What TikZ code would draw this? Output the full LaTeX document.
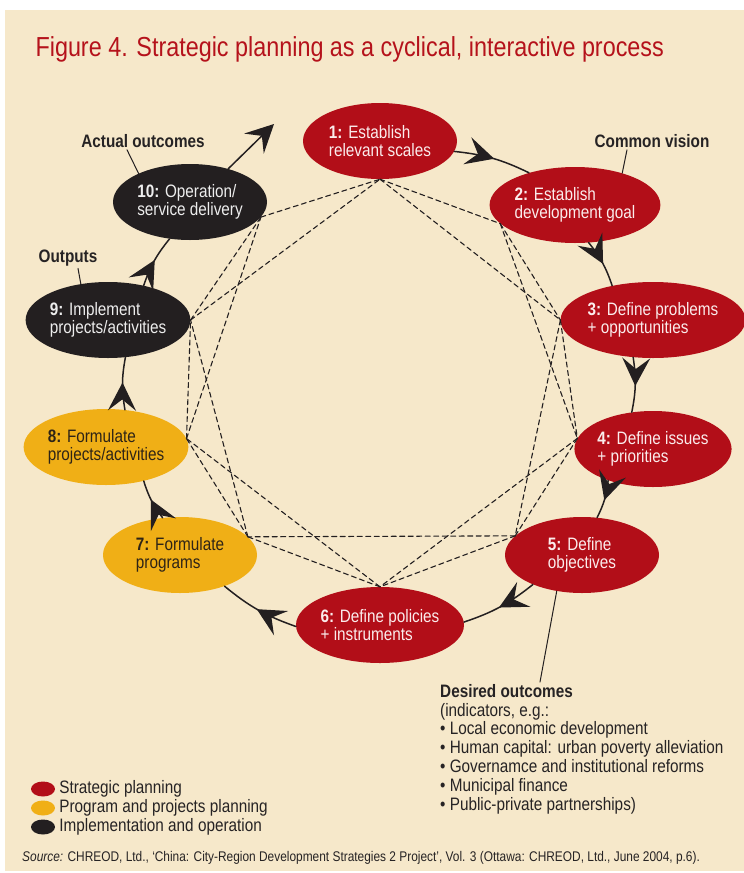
\documentclass[tikz,border=0pt]{standalone}
\usepackage{fontspec}
\setmainfont{Liberation Sans}[FakeStretch=0.85]
\usetikzlibrary{shapes.geometric,arrows.meta,decorations.markings}
\definecolor{bgbeige}{HTML}{F6E8CA}
\definecolor{planred}{HTML}{B20E18}
\definecolor{progyel}{HTML}{F0AF16}
\definecolor{implblk}{HTML}{231F20}
\definecolor{titlered}{HTML}{B5121B}
\definecolor{redtext}{HTML}{FBECEC}
\definecolor{blktext}{HTML}{EDEDED}
\definecolor{yeltext}{HTML}{2E2416}
\definecolor{inktext}{HTML}{262324}
\tikzset{bigtip/.tip={Stealth[length=28pt,width=28pt,inset=11pt]}}
\begin{document}
\begin{tikzpicture}[x=1pt, y=1pt, font=\fontsize{18}{18}\selectfont, line join=round, line cap=round,
	stage/.style={ellipse, minimum width=154pt, minimum height=76pt, inner sep=0pt, align=left},
	strat/.style={stage, fill=planred, text=redtext},
	prog/.style={stage, fill=progyel, text=yeltext},
	impl/.style={stage, fill=implblk, text=blktext},
	flow/.style={draw=implblk, line width=1.5pt, postaction={decorate}, decoration={markings, mark=at position 0.52 with {\arrow[implblk]{bigtip}}}},
	web/.style={draw=implblk, line width=1.1pt, dash pattern=on 5pt off 3.5pt},
	lbl/.style={font=\fontsize{18}{18}\selectfont\bfseries, text=inktext, inner sep=2pt}]
	\useasboundingbox (0,0) rectangle (744,-873);
	\fill[bgbeige] (5,-10) rectangle (744,-871);
	\node[anchor=base west, text=titlered, font=\fontsize{27.5}{30}\selectfont] (title) at (32,-56) {Figure 4. Strategic planning as a cyclical, interactive process};
	\node[strat] (n1) at (380,-141) {\textbf{1:} Establish\\relevant scales};
	\node[strat] (n2) at (575,-205) {\textbf{2:} Establish\\development goal};
	\node[strat] (n3) at (653,-320) {\textbf{3:} Define problems\\+ opportunities};
	\node[strat] (n4) at (653,-449) {\textbf{4:} Define issues\\+ priorities};
	\node[strat] (n5) at (582,-555) {\textbf{5:} Define\\objectives};
	\node[strat] (n6) at (380,-625) {\textbf{6:} Define policies\\+ instruments};
	\node[prog] (n7) at (180,-555) {\textbf{7:} Formulate\\programs};
	\node[prog] (n8) at (106,-447) {\textbf{8:} Formulate\\projects/activities};
	\node[impl] (n9) at (108,-320) {\textbf{9:} Implement\\projects/activities};
	\node[impl] (n10) at (190,-202) {\textbf{10:} Operation/\\service delivery};
	\path (n1.south) coordinate (d1) (n2.194) coordinate (d2) (n3.west) coordinate (d3)
		(n4.172) coordinate (d4) (n5.164) coordinate (d5) (n6.north) coordinate (d6)
		(n7.15) coordinate (d7) (n8.6) coordinate (d8) (n9.east) coordinate (d9) (n10.-12) coordinate (d10)
		(274,-124) coordinate (loopend);
	\foreach \a/\b in {1/2,2/3,3/4,4/5,5/6,6/7,7/8,8/9,9/10,10/1,1/3,2/4,3/5,4/6,5/7,6/8,7/9,8/10,9/1}
		\draw[web] (d\a)--(d\b);
	\foreach \a/\b/\o/\i in {1/2/-8/145,2/3/-70/140,3/4/-118/120,4/5/-145/68,5/6/-149/2,6/7/181/-35,7/8/115/-42,8/9/63/-65,9/10/44/-119}
		\draw[flow] (n\a.\o) to[bend left=10] (n\b.\i);
	\draw[draw=implblk, fill=implblk, line width=1.5pt, -{bigtip}] (n10.41)--(loopend);
	\node[lbl] (actual) at (143,-141) {Actual outcomes};
	\node[lbl] (vision) at (652,-141) {Common vision};
	\node[lbl] (outputs) at (68,-258) {Outputs};
	\node[anchor=north west, align=left, inner sep=0pt, text=inktext, font=\fontsize{18}{18.8}\selectfont] (desired) at (440,-684)
		{\textbf{Desired outcomes}\\(indicators, e.g.:\\• Local economic development\\• Human capital: urban poverty alleviation\\• Governamce and institutional reforms\\• Municipal finance\\• Public-private partnerships)};
	\draw[implblk, line width=1pt] ([xshift=-16pt]actual.south)--(n10.151);
	\draw[implblk, line width=1pt] ([xshift=-25pt]vision.south)--(n2.34);
	\draw[implblk, line width=1pt] ([xshift=10pt]outputs.south)--(n9.127);
	\draw[implblk, line width=1pt] (n5.-125)--([xshift=100pt,yshift=2pt]desired.north west);
	\foreach \c/\t [count=\k] in {planred/Strategic planning,progyel/Program and projects planning,implblk/Implementation and operation}{
		\node[ellipse, fill=\c, minimum width=24pt, minimum height=15pt, inner sep=0pt] (key\k) at (43,-770-19*\k) {};
		\node[anchor=west, inner sep=0pt, text=inktext] (keytext\k) at ([xshift=4pt]key\k.east) {\t};
	}
	\node[anchor=west, inner sep=0pt, text=inktext, font=\fontsize{14}{15}\selectfont] (source) at (22,-858)
		{\textit{Source:} CHREOD, Ltd., ‘China: City-Region Development Strategies 2 Project’, Vol. 3 (Ottawa: CHREOD, Ltd., June 2004, p.6).};
\end{tikzpicture}
\end{document}
